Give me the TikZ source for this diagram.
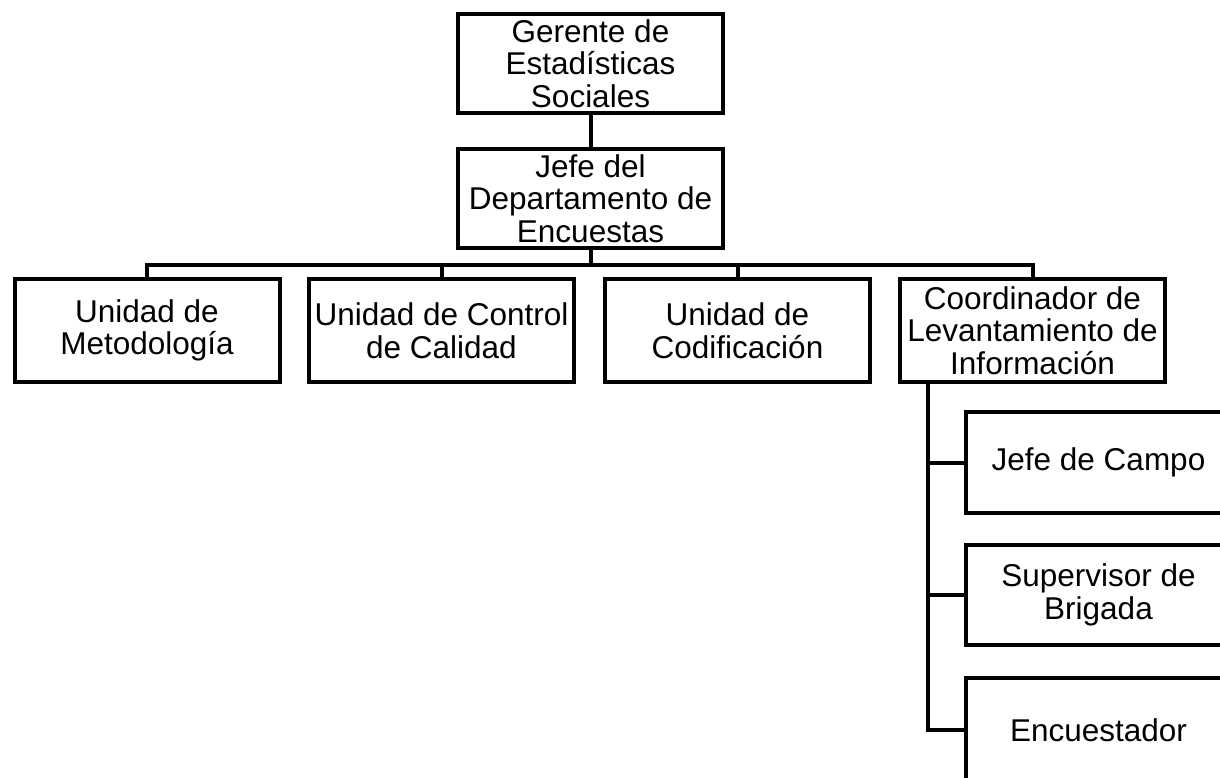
\documentclass[tikz,border=0pt]{standalone}
\usepackage{fontspec}
\setmainfont{Liberation Sans}
\usepackage{tikz}

\begin{document}
\begin{tikzpicture}[x=1pt,y=1pt,yscale=-1,xscale=1,
  box/.style={draw,line width=4,inner sep=0pt,align=center,minimum width=265,
    font=\fontsize{31.5}{32.5}\selectfont},
  link/.style={line width=4}]
\clip (0,0) rectangle (1220,778);

%Gerente and Jefe
\node [box,minimum height=99] (gerente) at (590.5,63.5) {Gerente de\\Estadísticas\\Sociales};
\node [box,minimum height=99] (jefe) at (590.5,198.5) {Jefe del\\Departamento de\\Encuestas};

%Units
\node [box,minimum height=103] (metodologia) at (147,330.5) {Unidad de\\Metodología};
\node [box,minimum height=103] (control) at (441.5,330.5) {Unidad de Control\\de Calidad};
\node [box,minimum height=103] (codificacion) at (737.5,330.5) {Unidad de\\Codificación};
\node [box,minimum height=103] (coordinador) at (1032.5,330.5) {Coordinador de\\Levantamiento de\\Información};

%Field staff
\node [box,minimum height=101] (campo) at (1098.5,462.5) {Jefe de Campo};
\node [box,minimum height=100] (supervisor) at (1098.5,595) {Supervisor de\\Brigada};
\node [box,minimum height=104] (encuestador) at (1098.5,730) {Encuestador};

%Bus
\coordinate (bus) at (590.5,264.5);
\coordinate (trunk) at (927.5,382);

\draw [link] (gerente) -- (jefe);
\draw [link] (jefe.south) -- (bus);
\draw [link] (metodologia.north) |- (coordinador.north |- bus) -- (coordinador.north);
\draw [link] (control.north) -- (control.north |- bus);
\draw [link] (codificacion.north) -- (codificacion.north |- bus);

%Trunk to field staff
\draw [link] (trunk) |- (encuestador.west);
\draw [link] (trunk |- campo.west) -- (campo.west);
\draw [link] (trunk |- supervisor.west) -- (supervisor.west);

\end{tikzpicture}
\end{document}
